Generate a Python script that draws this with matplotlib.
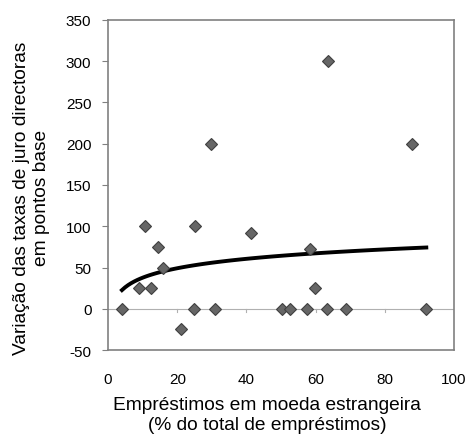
import numpy as np
import matplotlib.pyplot as plt

plt.rcParams['font.family'] = ['Liberation Sans', 'DejaVu Sans']
plt.rcParams['axes.unicode_minus'] = False

# loans in foreign currency (% of total) vs change in policy rates (bp)
emprestimos = [4, 9, 10.7, 12.3, 14.5, 16, 21, 24.7, 25, 29.7, 31, 41.4,
               50.4, 52.5, 57.4, 58.3, 59.7, 63.4, 63.7, 68.8, 88, 92]
variacao = [0, 25, 100, 25, 75, 50, -25, 0, 100, 200, 0, 92,
            0, 0, 0, 72, 25, 0, 300, 0, 200, 0]

x = np.array(emprestimos)
y = np.array(variacao)

# logarithmic trend line, as in the spreadsheet
a, b = np.polyfit(np.log(x), y, 1)
xs = np.linspace(x.min(), x.max(), 100)
ys = a * np.log(xs) + b

fig = plt.figure(figsize=(4.68, 4.35), dpi=100)
ax = fig.add_axes([0.231, 0.193, 0.739, 0.759])

ax.axhline(0, color='#b0b0b0', lw=0.8, zorder=1)
for t in range(20, 101, 20):
    ax.plot([t, t], [0, -4], color='#b0b0b0', lw=0.8, zorder=1)

ax.plot(xs, ys, color='black', lw=2.8, zorder=3)
ax.plot(x, y, 'D', ms=6.3, mfc='#666666', mec='#404040', mew=0.8, zorder=4)

ax.set_xlim(0, 100)
ax.set_ylim(-50, 350)
ax.set_xticks(range(0, 101, 20))
ax.set_yticks(range(-50, 351, 50))
for s in ax.spines.values():
    s.set_color('#808080')
    s.set_linewidth(1.2)
ax.tick_params(axis='x', length=0, labelsize=11, pad=16)
ax.tick_params(axis='y', length=4, color='#808080', labelsize=11, pad=8)

ax.set_xlabel('Empréstimos em moeda estrangeira\n(% do total de empréstimos)',
              fontsize=13.75)
ax.set_ylabel('Variação das taxas de juro directoras\nem pontos base',
              fontsize=13.75)
ax.xaxis.set_label_coords(0.46, -0.14)
ax.yaxis.set_label_coords(-0.168, 0.463)

fig.savefig('out.png', dpi=100)
